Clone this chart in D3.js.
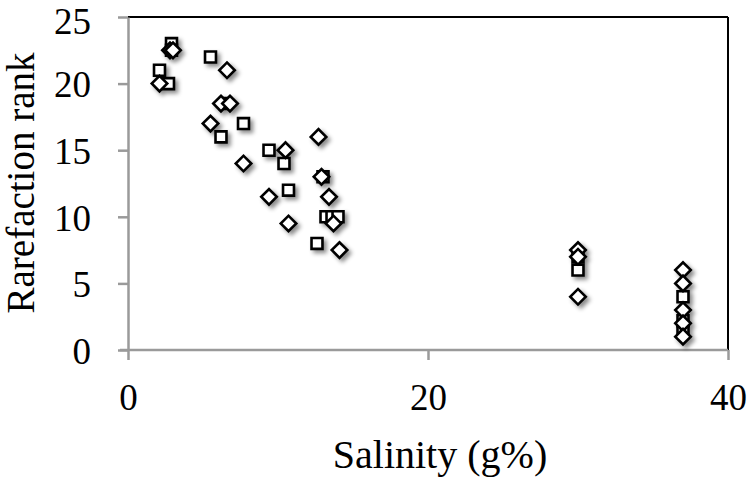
<!DOCTYPE html>
<html><head><meta charset="utf-8">
<script src="https://cdn.jsdelivr.net/npm/d3@7"></script>
<style>body{margin:0;background:#fff}svg{display:block}</style>
</head><body>
<script>
// Data: two series (squares and diamonds)
const squareX = [2.9, 2.9, 2.1, 2.7, 5.5, 6.5, 7.7, 6.2, 9.4, 10.4, 10.7, 13.0, 13.2, 13.6, 14.0, 12.6, 30, 30, 37, 37, 37];
const squareY = [23, 22.5, 21, 20, 22, 18.5, 17, 16, 15, 14, 12, 13, 10, 10, 10, 8, 7, 6, 4, 2.2, 1.5];
const diamondX = [2.8, 3.0, 2.1, 6.6, 6.2, 6.8, 5.5, 7.7, 10.5, 9.4, 10.7, 12.7, 12.9, 13.4, 13.7, 14.1, 30, 30, 30, 37, 37, 37, 37, 37];
const diamondY = [22.5, 22.5, 20, 21, 18.5, 18.5, 17, 14, 15, 11.5, 9.5, 16, 13, 11.5, 9.5, 7.5, 7.5, 7, 4, 6, 5, 3, 2, 1];
const xTicks = [0, 20, 40];
const yTicks = [0, 5, 10, 15, 20, 25];
const xTitle = "Salinity (g%)";
const yTitle = "Rarefaction rank";

const W = 750, H = 488;
const svg = d3.select("body").append("svg").attr("width", W).attr("height", H);
const defs = svg.append("defs");
const f = defs.append("filter").attr("id", "sh").attr("x", "-50%").attr("y", "-50%").attr("width", "200%").attr("height", "200%");
f.append("feDropShadow").attr("dx", 3).attr("dy", 3).attr("stdDeviation", 2.2)
  .attr("flood-color", "#000").attr("flood-opacity", 0.45);

const x = d3.scaleLinear().domain([0, 40]).range([128, 728]);
const y = d3.scaleLinear().domain([0, 25]).range([350, 17]);
const font = "'Liberation Serif', 'Times New Roman', serif";

// Plot border: top & right black
svg.append("line").attr("x1", x(0)).attr("x2", x(40)).attr("y1", y(25)).attr("y2", y(25))
  .attr("stroke", "#000").attr("stroke-width", 2);
svg.append("line").attr("x1", x(40)).attr("x2", x(40)).attr("y1", y(25)).attr("y2", y(0))
  .attr("stroke", "#000").attr("stroke-width", 2);

// Axes
const gx = svg.append("g").attr("transform", `translate(0,${y(0)})`)
  .call(d3.axisBottom(x).tickValues(xTicks).tickSize(10).tickSizeOuter(0));
const gy = svg.append("g").attr("transform", `translate(${x(0)},0)`)
  .call(d3.axisLeft(y).tickValues(yTicks).tickSize(10).tickSizeOuter(0));
[gx, gy].forEach(g => {
  g.select(".domain").attr("stroke", "#9a9a9a").attr("stroke-width", 2.5);
  g.selectAll(".tick line").attr("stroke", "#9a9a9a").attr("stroke-width", 2.5);
  g.selectAll(".tick text").attr("font-family", font).attr("font-size", 37).attr("fill", "#000");
});
gx.selectAll(".tick text").attr("y", 0).attr("dy", 0).attr("transform", "translate(0,60)");
gy.selectAll(".tick text").attr("x", -37).attr("dy", "0.36em")
  .attr("y", d => d === 25 ? 3 : 0); // keep top label inside the canvas
// x-axis domain extends slightly left of y axis
gx.select(".domain").attr("d", `M${x(0)-8},0H${x(40)}`);

// Titles
svg.append("text").attr("x", 440).attr("y", 468).attr("text-anchor", "middle")
  .attr("font-family", font).attr("font-size", 40).text(xTitle);
svg.append("text").attr("transform", "translate(34,183) rotate(-90)").attr("text-anchor", "middle")
  .attr("font-family", font).attr("font-size", 39).text(yTitle);

// Markers
const squares = squareX.map((v, i) => ({ x: v, y: squareY[i] }));
const diamonds = diamondX.map((v, i) => ({ x: v, y: diamondY[i] }));
const sq = d3.symbol().type(d3.symbolSquare).size(120);
const marks = svg.append("g").attr("filter", "url(#sh)");
marks.selectAll(".sq").data(squares).join("path").attr("class", "sq")
  .attr("d", sq).attr("transform", d => `translate(${x(d.x)},${y(d.y)})`)
  .attr("fill", "#fff").attr("stroke", "#000").attr("stroke-width", 2.6);
marks.selectAll(".dm").data(diamonds).join("path").attr("class", "dm")
  .attr("d", sq).attr("transform", d => `translate(${x(d.x)},${y(d.y)}) rotate(45)`)
  .attr("fill", "#fff").attr("stroke", "#000").attr("stroke-width", 2.6);
</script>
</body></html>
